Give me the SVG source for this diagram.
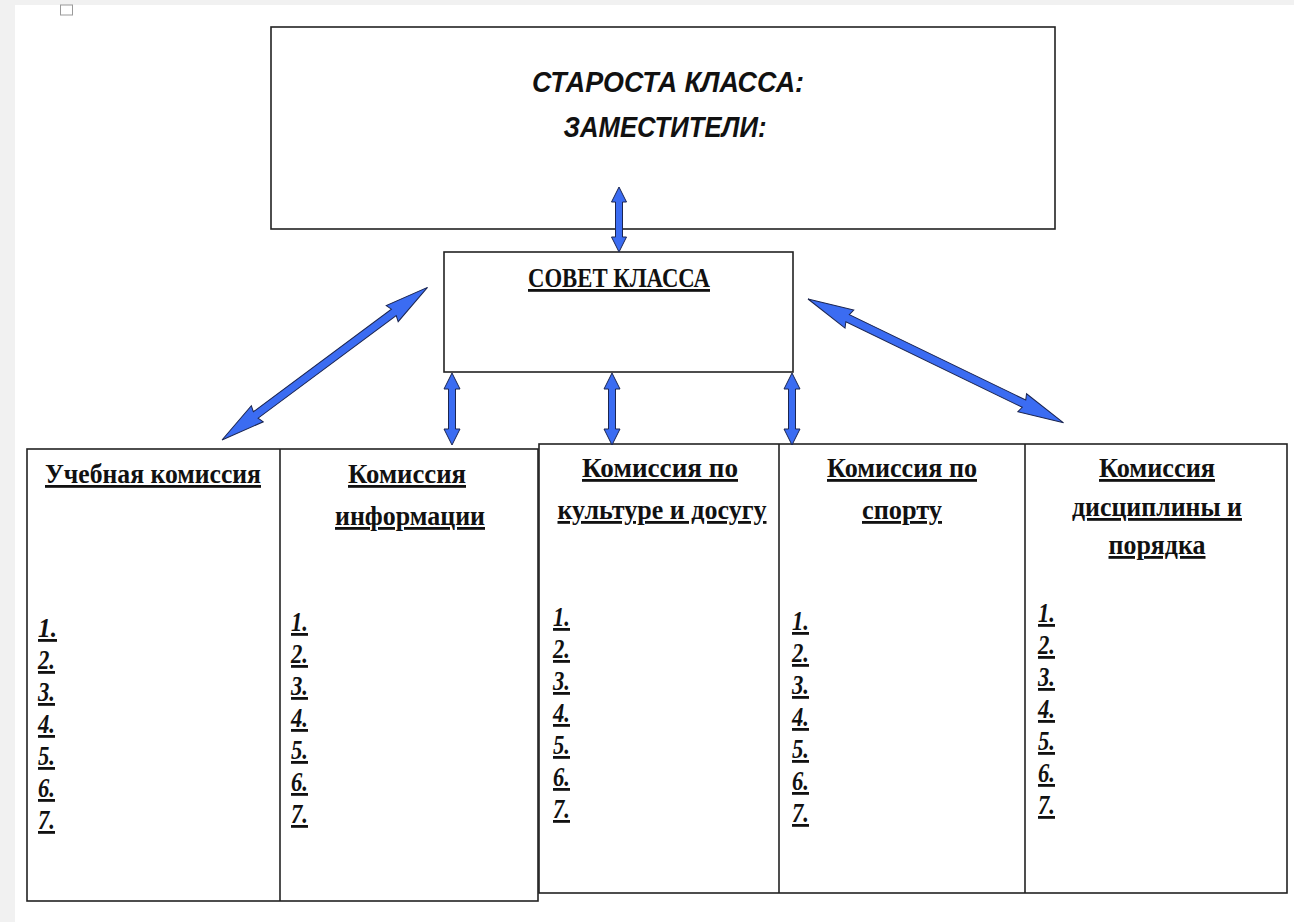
<svg xmlns="http://www.w3.org/2000/svg" width="1294" height="922" viewBox="0 0 1294 922">
<style>
.box{fill:#ffffff;stroke:#222222;stroke-width:1.6}
.arr{fill:#3b6cf2;stroke:#1b2550;stroke-width:1;stroke-linejoin:miter}
.top{font-family:"Liberation Sans",Arial,sans-serif;font-weight:bold;font-style:italic;font-size:29px;fill:#111;text-anchor:middle}
.hd{font-family:"Liberation Serif","Times New Roman",serif;font-weight:bold;font-size:28px;fill:#111;text-anchor:middle;text-decoration:underline}
.num{font-family:"Liberation Serif","Times New Roman",serif;font-weight:bold;font-style:italic;font-size:28px;fill:#111;text-decoration:underline}
</style>
<rect x="0" y="0" width="1294" height="922" fill="#f1f1f1"/>
<rect x="15" y="5" width="1279" height="917" fill="#ffffff"/>
<rect x="60.5" y="5" width="12" height="10" fill="none" stroke="#9a9a9a" stroke-width="1"/>

<g id="starosta">
<rect class="box" x="271" y="27" width="784" height="202" stroke-width="2"/>
<text class="top" x="668" y="92" textLength="272" lengthAdjust="spacingAndGlyphs">СТАРОСТА КЛАССА:</text>
<text class="top" x="665" y="137" textLength="203" lengthAdjust="spacingAndGlyphs">ЗАМЕСТИТЕЛИ:</text>
</g>

<g id="sovet">
<rect class="box" x="444" y="252" width="349" height="120"/>
<text class="hd" x="619" y="287" textLength="182" lengthAdjust="spacingAndGlyphs">СОВЕТ КЛАССА</text>
</g>

<g id="left-group-frame">
<rect class="box" x="27" y="449" width="511" height="452"/>
<line x1="280" y1="449" x2="280" y2="901" stroke="#222" stroke-width="1.6"/>
</g>
<g id="right-group-frame">
<rect class="box" x="539" y="444" width="748" height="449"/>
<line x1="779" y1="444" x2="779" y2="893" stroke="#222" stroke-width="1.6"/>
<line x1="1025" y1="444" x2="1025" y2="893" stroke="#222" stroke-width="1.6"/>
</g>

<g id="uchebnaya">
<text class="hd" x="153" y="483" textLength="216" lengthAdjust="spacingAndGlyphs">Учебная комиссия</text>
<text class="num" x="38" y="637" textLength="19" lengthAdjust="spacingAndGlyphs">1.</text>
<text class="num" x="38" y="669" textLength="17" lengthAdjust="spacingAndGlyphs">2.</text>
<text class="num" x="38" y="701" textLength="17" lengthAdjust="spacingAndGlyphs">3.</text>
<text class="num" x="38" y="733" textLength="17" lengthAdjust="spacingAndGlyphs">4.</text>
<text class="num" x="38" y="765" textLength="17" lengthAdjust="spacingAndGlyphs">5.</text>
<text class="num" x="38" y="797" textLength="17" lengthAdjust="spacingAndGlyphs">6.</text>
<text class="num" x="38" y="829" textLength="17" lengthAdjust="spacingAndGlyphs">7.</text>
</g>

<g id="informacii">
<text class="hd" x="407" y="483" textLength="118" lengthAdjust="spacingAndGlyphs">Комиссия</text>
<text class="hd" x="410" y="525" textLength="150" lengthAdjust="spacingAndGlyphs">информации</text>
<text class="num" x="291" y="631" textLength="17" lengthAdjust="spacingAndGlyphs">1.</text>
<text class="num" x="291" y="663" textLength="17" lengthAdjust="spacingAndGlyphs">2.</text>
<text class="num" x="291" y="695" textLength="17" lengthAdjust="spacingAndGlyphs">3.</text>
<text class="num" x="291" y="727" textLength="17" lengthAdjust="spacingAndGlyphs">4.</text>
<text class="num" x="291" y="759" textLength="17" lengthAdjust="spacingAndGlyphs">5.</text>
<text class="num" x="291" y="791" textLength="17" lengthAdjust="spacingAndGlyphs">6.</text>
<text class="num" x="291" y="823" textLength="17" lengthAdjust="spacingAndGlyphs">7.</text>
</g>

<g id="kultura">
<text class="hd" x="660" y="477" textLength="156" lengthAdjust="spacingAndGlyphs">Комиссия по</text>
<text class="hd" x="662" y="519" textLength="209" lengthAdjust="spacingAndGlyphs">культуре и досугу</text>
<text class="num" x="553" y="626" textLength="17" lengthAdjust="spacingAndGlyphs">1.</text>
<text class="num" x="553" y="658" textLength="17" lengthAdjust="spacingAndGlyphs">2.</text>
<text class="num" x="553" y="690" textLength="17" lengthAdjust="spacingAndGlyphs">3.</text>
<text class="num" x="553" y="722" textLength="17" lengthAdjust="spacingAndGlyphs">4.</text>
<text class="num" x="553" y="754" textLength="17" lengthAdjust="spacingAndGlyphs">5.</text>
<text class="num" x="553" y="786" textLength="17" lengthAdjust="spacingAndGlyphs">6.</text>
<text class="num" x="553" y="818" textLength="17" lengthAdjust="spacingAndGlyphs">7.</text>
</g>

<g id="sport">
<text class="hd" x="902" y="477" textLength="150" lengthAdjust="spacingAndGlyphs">Комиссия по</text>
<text class="hd" x="902" y="519" textLength="80" lengthAdjust="spacingAndGlyphs">спорту</text>
<text class="num" x="792" y="630" textLength="17" lengthAdjust="spacingAndGlyphs">1.</text>
<text class="num" x="792" y="662" textLength="17" lengthAdjust="spacingAndGlyphs">2.</text>
<text class="num" x="792" y="694" textLength="17" lengthAdjust="spacingAndGlyphs">3.</text>
<text class="num" x="792" y="726" textLength="17" lengthAdjust="spacingAndGlyphs">4.</text>
<text class="num" x="792" y="758" textLength="17" lengthAdjust="spacingAndGlyphs">5.</text>
<text class="num" x="792" y="790" textLength="17" lengthAdjust="spacingAndGlyphs">6.</text>
<text class="num" x="792" y="822" textLength="17" lengthAdjust="spacingAndGlyphs">7.</text>
</g>

<g id="disciplina">
<text class="hd" x="1157" y="477" textLength="116" lengthAdjust="spacingAndGlyphs">Комиссия</text>
<text class="hd" x="1157" y="516" textLength="170" lengthAdjust="spacingAndGlyphs">дисциплины и</text>
<text class="hd" x="1157" y="554" textLength="97" lengthAdjust="spacingAndGlyphs">порядка</text>
<text class="num" x="1038" y="622" textLength="17" lengthAdjust="spacingAndGlyphs">1.</text>
<text class="num" x="1038" y="654" textLength="17" lengthAdjust="spacingAndGlyphs">2.</text>
<text class="num" x="1038" y="686" textLength="17" lengthAdjust="spacingAndGlyphs">3.</text>
<text class="num" x="1038" y="718" textLength="17" lengthAdjust="spacingAndGlyphs">4.</text>
<text class="num" x="1038" y="750" textLength="17" lengthAdjust="spacingAndGlyphs">5.</text>
<text class="num" x="1038" y="782" textLength="17" lengthAdjust="spacingAndGlyphs">6.</text>
<text class="num" x="1038" y="814" textLength="17" lengthAdjust="spacingAndGlyphs">7.</text>
</g>

<g id="connectors">
<path class="arr" transform="translate(619,187) rotate(90)" d="M0,0 L15,-7.5 L15,-3.5 L50,-3.5 L50,-7.5 L65,0 L50,7.5 L50,3.5 L15,3.5 L15,7.5 Z"/>
<path class="arr" transform="translate(452,373) rotate(90)" d="M0,0 L16,-8 L16,-3.5 L56,-3.5 L56,-8 L72,0 L56,8 L56,3.5 L16,3.5 L16,8 Z"/>
<path class="arr" transform="translate(612,373) rotate(90)" d="M0,0 L16,-8 L16,-3.5 L56,-3.5 L56,-8 L72,0 L56,8 L56,3.5 L16,3.5 L16,8 Z"/>
<path class="arr" transform="translate(792,373) rotate(90)" d="M0,0 L16,-8 L16,-3.5 L56,-3.5 L56,-8 L72,0 L56,8 L56,3.5 L16,3.5 L16,8 Z"/>
<path class="arr" transform="translate(222,440) rotate(-36.6)" d="M0,0 L44,-10 L42,-4 L214,-4 L212,-10 L256,0 L212,10 L214,4 L42,4 L44,10 Z"/>
<path class="arr" transform="translate(808,299) rotate(25.85)" d="M0,0 L46,-10 L44,-4 L240,-4 L238,-10 L284,0 L238,10 L240,4 L44,4 L46,10 Z"/>
</g>
</svg>
